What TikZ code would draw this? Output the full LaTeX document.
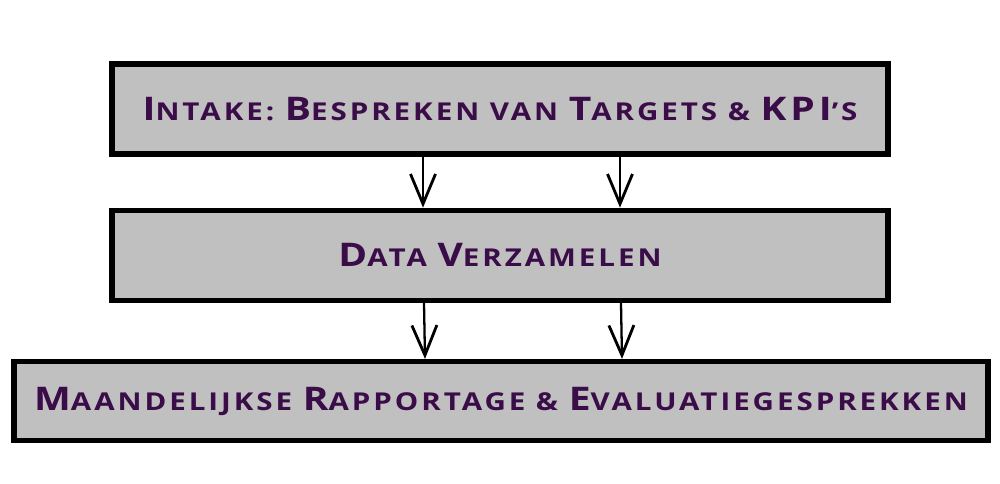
\documentclass[tikz,border=0pt]{standalone}
\usepackage{fontspec}
\setmainfont{Open Sans}[LetterSpace=12, FakeStretch=1.2]
\usepackage{tikz}
\usetikzlibrary{arrows.meta, positioning}

\definecolor{paars}{RGB}{58,12,72}
\definecolor{grijs}{RGB}{192,192,192}
\newcommand\kap[2]{{\fontsize{18.5}{20}\selectfont #1}{\fontsize{14}{15}\selectfont\MakeUppercase{#2}}}

\begin{document}
\begin{tikzpicture}[-{Straight Barb[length=6mm,width=5mm,line width=1.6pt]}, line width=1.3pt,
                    node distance=1.02cm]
  \tikzstyle{stap}=[rectangle, draw=black, line width=3pt, fill=grijs, text=paars,
                    minimum width=15.52cm, minimum height=1.8cm,
                    font=\bfseries\fontsize{14}{15}\selectfont]
  \useasboundingbox (0,0) rectangle (20,-9.68);

  \node[stap] (intake) at (10,-2.18) {\kap{I}{ntake:} \kap{B}{espreken van} \kap{T}{argets} \kap{}{\&} \kap{KPI}{’s}};
  \node[stap] (data)   [below =of intake]   {\kap{D}{ata} \kap{V}{erzamelen}};
  \node[stap] (rapport)[below =1.12cm of data, minimum width=19.48cm, minimum height=1.58cm, xshift=0.02cm]
                       {\kap{M}{aandelijkse} \kap{R}{apportage} \kap{}{\&} \kap{E}{valuatiegesprekken}};

  \draw ([xshift=-1.54cm]intake.south) -- ([xshift=-1.54cm]data.north);
  \draw ([xshift=2.4cm]intake.south)   -- ([xshift=2.4cm]data.north);
  \draw ([xshift=-1.52cm]data.south)   -- ([xshift=-1.52cm]rapport.north);
  \draw ([xshift=2.42cm]data.south)    -- ([xshift=2.42cm]rapport.north);
\end{tikzpicture}
\end{document}
